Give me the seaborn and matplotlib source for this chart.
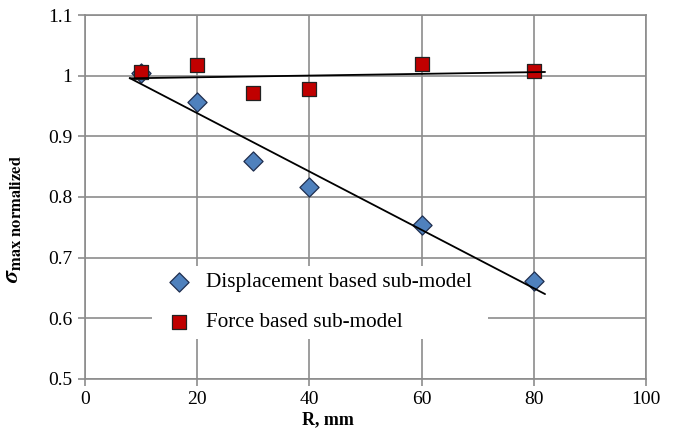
import numpy as np
import pandas as pd
import matplotlib
matplotlib.use("Agg")
import matplotlib.pyplot as plt
import seaborn as sns

# values
r_mm = [10, 20, 30, 40, 60, 80]
disp_sigma = [1.005, 0.956, 0.860, 0.817, 0.753, 0.661]
force_sigma = [1.006, 1.017, 0.972, 0.978, 1.020, 1.008]
x_ticks = [0, 20, 40, 60, 80, 100]
y_ticks = [0.5, 0.6, 0.7, 0.8, 0.9, 1.0, 1.1]
y_tick_labels = ["0.5", "0.6", "0.7", "0.8", "0.9", "1", "1.1"]
disp_label = "Displacement based sub-model"
force_label = "Force based sub-model"

GRID = "#8c8c8c"

sns.set_theme(style="white")
plt.rcParams["font.family"] = ["Liberation Serif", "DejaVu Serif"]
plt.rcParams["mathtext.fontset"] = "stix"
plt.rcParams["text.color"] = "black"
plt.rcParams["axes.labelcolor"] = "black"
plt.rcParams["xtick.labelcolor"] = "black"
plt.rcParams["ytick.labelcolor"] = "black"


def trend(x, y, pad=2):
    """Linear trendline extended a little past the data, like Excel's forecast."""
    k, b = np.polyfit(x, y, 1)
    xs = np.array([min(x) - pad, max(x) + pad])
    return pd.DataFrame({"x": xs, "y": k * xs + b})


df = pd.DataFrame({"R": r_mm, "disp": disp_sigma, "force": force_sigma})

fig = plt.figure(figsize=(6.73, 4.30), dpi=100)
ax = fig.add_axes([0.126, 0.119, 0.834, 0.846])

sns.scatterplot(data=df, x="R", y="disp", marker="D", s=95, color="#4f81bd",
                edgecolor="#1f2f4f", linewidth=0.9, label=disp_label, ax=ax, zorder=3)
sns.scatterplot(data=df, x="R", y="force", marker="s", s=110, color="#c00000",
                edgecolor="#222222", linewidth=0.9, label=force_label, ax=ax, zorder=4)

td = trend(r_mm, disp_sigma)
tf = trend(r_mm, force_sigma)
sns.lineplot(data=td, x="x", y="y", color="black", linewidth=1.3, ax=ax, zorder=5, legend=False)
sns.lineplot(data=tf, x="x", y="y", color="black", linewidth=1.3, ax=ax, zorder=5, legend=False)

ax.set_xlim(0, 100)
ax.set_ylim(0.5, 1.1)
ax.set_xticks(x_ticks)
ax.set_yticks(y_ticks)
ax.set_yticklabels(y_tick_labels)
ax.tick_params(axis="both", labelsize=14, length=5, width=1.2, color=GRID,
               direction="out", left=True, bottom=True, pad=4)
ax.grid(True, color=GRID, linewidth=1.2)
ax.set_axisbelow(True)
for sp in ax.spines.values():
    sp.set_color(GRID)
    sp.set_linewidth(1.2)

ax.set_xlabel("R, mm", fontsize=13, fontweight="bold")
ax.xaxis.set_label_coords(0.433, -0.088)
ax.set_ylabel(r"$\boldsymbol{\sigma}_{\mathbf{max\ normalized}}$", fontsize=17)
ax.yaxis.set_label_coords(-0.108, 0.44)

leg = ax.legend(loc="lower left", bbox_to_anchor=(0.119, 0.11, 0.6, 0.19),
                mode="expand", frameon=True, fontsize=15.3, handletextpad=0.25,
                labelspacing=0.95, borderpad=0.3, borderaxespad=0)
leg.get_frame().set_facecolor("white")
leg.get_frame().set_edgecolor("none")
leg.get_frame().set_alpha(1)
leg.set_zorder(6)

fig.savefig("out.png", dpi=100)
